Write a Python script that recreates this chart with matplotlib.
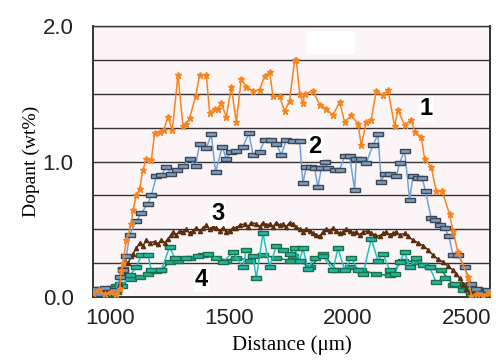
import matplotlib
matplotlib.use("Agg")
import matplotlib.pyplot as plt
import matplotlib.patches as mpatches
from matplotlib.path import Path

# ── Data ──────────────────────────────────────────────────────────────────────
x1 = [930, 955, 980, 1005, 1025, 1042, 1049, 1056, 1070, 1091, 1098, 1112, 1126, 1140, 1154,
      1175, 1189, 1210, 1227, 1245, 1263, 1287, 1308, 1322, 1336, 1361, 1378, 1406, 1420, 1441,
      1455, 1469, 1490, 1511, 1532, 1553, 1574, 1602, 1630, 1651, 1672, 1686, 1714, 1735, 1756,
      1777, 1784, 1798, 1812, 1819, 1854, 1882, 1910, 1938, 1966, 1987, 2015, 2043, 2057, 2078,
      2099, 2120, 2148, 2169, 2197, 2211, 2239, 2267, 2281, 2309, 2323, 2351, 2372, 2397, 2428,
      2442, 2463, 2505, 2519, 2545, 2570, 2595]
y1 = [0.03, 0.05, 0.02, 0.04, 0.02, 0.06, 0.19, 0.25, 0.42, 0.54, 0.64, 0.75, 0.80, 0.94, 1.02,
      1.01, 1.21, 1.22, 1.23, 1.33, 1.23, 1.64, 1.26, 1.28, 1.32, 1.48, 1.64, 1.64, 1.36, 1.39,
      1.39, 1.43, 1.33, 1.55, 1.29, 1.61, 1.55, 1.52, 1.53, 1.63, 1.66, 1.48, 1.48, 1.37, 1.45,
      1.75, 1.75, 1.50, 1.43, 1.50, 1.52, 1.42, 1.39, 1.34, 1.44, 1.29, 1.34, 1.28, 1.12, 1.29,
      1.31, 1.52, 1.49, 1.53, 1.26, 1.38, 1.27, 1.31, 1.22, 1.18, 1.02, 0.96, 0.78, 0.78, 0.61,
      0.49, 0.33, 0.15, 0.01, 0.02, 0.01, 0.03]

x2 = [930, 955, 980, 1005, 1025, 1042, 1056, 1070, 1084, 1112, 1133, 1161, 1175, 1196, 1217,
      1238, 1259, 1283, 1308, 1336, 1361, 1378, 1406, 1427, 1445, 1473, 1490, 1511, 1532, 1560,
      1585, 1602, 1630, 1651, 1679, 1700, 1721, 1742, 1770, 1798, 1812, 1826, 1847, 1861, 1875,
      1889, 1903, 1917, 1945, 1966, 1987, 2008, 2029, 2036, 2057, 2078, 2106, 2127, 2141, 2155,
      2176, 2204, 2218, 2239, 2260, 2274, 2295, 2313, 2327, 2351, 2365, 2386, 2407, 2425, 2442,
      2463, 2491, 2519, 2540, 2565, 2590]
y2 = [0.06, 0.02, 0.07, 0.03, 0.05, 0.15, 0.20, 0.30, 0.46, 0.56, 0.62, 0.69, 0.75, 0.89, 0.90,
      0.96, 0.91, 0.94, 0.97, 1.02, 0.97, 1.13, 1.10, 1.20, 0.92, 1.11, 1.02, 1.07, 1.08, 1.11,
      1.21, 1.05, 1.07, 1.16, 1.16, 1.13, 1.05, 1.16, 1.15, 1.15, 0.84, 0.96, 0.96, 0.95, 0.81,
      0.95, 1.00, 0.95, 0.94, 0.94, 1.04, 1.04, 0.79, 1.02, 1.02, 0.99, 1.12, 1.20, 0.85, 0.91,
      0.91, 0.89, 0.99, 1.08, 0.72, 0.89, 0.88, 0.88, 0.78, 0.58, 0.57, 0.53, 0.51, 0.45, 0.31,
      0.31, 0.22, 0.10, 0.06, 0.03, 0.05]

x3 = [930, 955, 980, 1005, 1025, 1042, 1056, 1063, 1077, 1091, 1098, 1112, 1126, 1140, 1154,
      1168, 1189, 1203, 1217, 1231, 1245, 1259, 1266, 1280, 1294, 1308, 1322, 1336, 1350, 1364,
      1378, 1392, 1406, 1420, 1434, 1448, 1462, 1476, 1490, 1504, 1518, 1532, 1546, 1567, 1581,
      1595, 1616, 1630, 1644, 1658, 1672, 1686, 1700, 1714, 1728, 1742, 1756, 1770, 1784, 1798,
      1812, 1826, 1840, 1854, 1868, 1882, 1896, 1910, 1924, 1938, 1952, 1966, 1980, 1994, 2008,
      2022, 2036, 2050, 2064, 2085, 2099, 2113, 2134, 2148, 2162, 2176, 2190, 2204, 2218, 2239,
      2253, 2274, 2295, 2316, 2337, 2358, 2379, 2400, 2421, 2442, 2456, 2470, 2484, 2498, 2512,
      2526, 2555, 2585]
y3 = [0.02, 0.04, 0.03, 0.05, 0.06, 0.10, 0.18, 0.27, 0.25, 0.30, 0.32, 0.36, 0.40, 0.38, 0.42,
      0.40, 0.41, 0.39, 0.42, 0.40, 0.43, 0.46, 0.48, 0.46, 0.49, 0.48, 0.50, 0.47, 0.49, 0.51,
      0.49, 0.51, 0.53, 0.50, 0.52, 0.51, 0.49, 0.51, 0.48, 0.49, 0.51, 0.51, 0.53, 0.54, 0.52,
      0.55, 0.54, 0.52, 0.55, 0.53, 0.54, 0.52, 0.55, 0.53, 0.54, 0.52, 0.55, 0.54, 0.52, 0.50,
      0.48, 0.50, 0.49, 0.47, 0.46, 0.45, 0.48, 0.50, 0.49, 0.51, 0.49, 0.47, 0.48, 0.50, 0.49,
      0.47, 0.48, 0.46, 0.48, 0.49, 0.47, 0.46, 0.45, 0.47, 0.48, 0.46, 0.47, 0.48, 0.46, 0.47,
      0.45, 0.42, 0.40, 0.38, 0.35, 0.31, 0.28, 0.26, 0.23, 0.20, 0.17, 0.14, 0.10, 0.06, 0.04,
      0.03, 0.02, 0.04]

x4 = [930, 955, 980, 1005, 1025, 1050, 1084, 1112, 1133, 1161, 1175, 1217, 1252, 1273, 1322,
      1371, 1413, 1476, 1518, 1560, 1574, 1602, 1616, 1644, 1672, 1700, 1728, 1756, 1777, 1798,
      1812, 1833, 1861, 1896, 1938, 1959, 1987, 2015, 2043, 2064, 2099, 2127, 2148, 2176, 2197,
      2218, 2239, 2260, 2288, 2316, 2344, 2372, 2407, 2449, 2491, 2519, 2545, 2575]
y4 = [0.02, 0.06, 0.03, 0.07, 0.04, 0.08, 0.16, 0.22, 0.31, 0.31, 0.20, 0.20, 0.37, 0.29, 0.29,
      0.30, 0.32, 0.26, 0.33, 0.22, 0.35, 0.30, 0.14, 0.47, 0.22, 0.38, 0.35, 0.32, 0.36, 0.27,
      0.36, 0.21, 0.29, 0.30, 0.20, 0.36, 0.20, 0.29, 0.20, 0.17, 0.43, 0.27, 0.32, 0.20, 0.17,
      0.26, 0.33, 0.22, 0.29, 0.24, 0.22, 0.11, 0.14, 0.10, 0.09, 0.04, 0.06, 0.03]

x5 = [930, 955, 980, 1005, 1025, 1042, 1056, 1070, 1091, 1126, 1161, 1196, 1217, 1252, 1287,
      1336, 1392, 1448, 1490, 1532, 1588, 1644, 1700, 1756, 1770, 1840, 1896, 1952, 2008, 2057,
      2120, 2176, 2232, 2288, 2344, 2393, 2442, 2484, 2520, 2550, 2580]
y5 = [0.05, 0.03, 0.06, 0.02, 0.08, 0.10, 0.21, 0.15, 0.13, 0.15, 0.17, 0.19, 0.20, 0.26, 0.27,
      0.29, 0.31, 0.29, 0.27, 0.29, 0.27, 0.31, 0.29, 0.27, 0.30, 0.22, 0.32, 0.20, 0.22, 0.20,
      0.17, 0.16, 0.27, 0.26, 0.22, 0.20, 0.09, 0.05, 0.03, 0.05, 0.02]

curve_labels = ["1", "2", "3", "4"]
label_pos = [(2331, 1.39), (1861, 1.11), (1454, 0.62), (1386, 0.13)]

x_ticks = [1000, 1500, 2000, 2500]
y_ticks = [0.0, 1.0, 2.0]

# ── Style ─────────────────────────────────────────────────────────────────────
BG_PLOT = "#fcf5f7"
GRID = "#333333"
C_ORANGE = "#f7841f"
C_BLUE = "#6ea4dc"
C_BROWN = "#5b2e0e"
C_CYAN = "#1fc3c3"
C_GREEN = "#16784f"

# flat rectangle marker (Excel-like dash)
rect_marker = Path([(-1, -0.45), (1, -0.45), (1, 0.45), (-1, 0.45), (-1, -0.45)],
                   [Path.MOVETO, Path.LINETO, Path.LINETO, Path.LINETO, Path.CLOSEPOLY])

fig = plt.figure(figsize=(4.96, 3.61), dpi=100)
ax = fig.add_axes([0.1875, 0.177, 0.8005, 0.751])
ax.set_facecolor(BG_PLOT)

ax.plot(x5, y5, color=C_GREEN, lw=1.1, marker=rect_marker, ms=6.5,
        mfc="#2aa88a", mec=C_GREEN, mew=1.0, zorder=3)
ax.plot(x4, y4, color=C_CYAN, lw=1.1, marker=rect_marker, ms=6.5,
        mfc="#26b5aa", mec="#17704a", mew=1.0, zorder=4)
ax.plot(x3, y3, color=C_BROWN, lw=1.1, marker="^", ms=3.0,
        mfc=C_BROWN, mec=C_BROWN, zorder=5)
ax.plot(x2, y2, color=C_BLUE, lw=1.1, marker=rect_marker, ms=7,
        mfc="#7f9cba", mec="#3a4758", mew=1.0, zorder=6)
ax.plot(x1, y1, color=C_ORANGE, lw=1.1, marker="*", ms=4.5,
        mfc=C_ORANGE, mec=C_ORANGE, zorder=7)

# white patch near the top (blank box in the original)
ax.add_patch(mpatches.Rectangle((1827, 1.79), 202, 0.17, facecolor="white",
                                edgecolor="none", zorder=2.5))

for lab, (lx, ly) in zip(curve_labels, label_pos):
    ax.text(lx, ly, lab, fontsize=17, fontweight="bold", family="Liberation Sans",
            ha="center", va="center", color="black", zorder=9,
            bbox=dict(facecolor="white", edgecolor="none", pad=1.0))

ax.set_xlim(930, 2598)
ax.set_ylim(0, 2.0)
ax.set_xticks(x_ticks)
ax.set_yticks(y_ticks)
ax.set_xticklabels([str(t) for t in x_ticks])
ax.set_yticklabels([f"{t:.1f}" for t in y_ticks])
ax.set_yticks([0.25, 0.5, 0.75, 1.25, 1.5, 1.75], minor=True)
ax.grid(True, which="both", axis="y", color=GRID, lw=1.0, zorder=1)
ax.set_axisbelow(True)

for lbl in ax.get_xticklabels() + ax.get_yticklabels():
    lbl.set_fontfamily("Liberation Sans")
    lbl.set_fontsize(16)
    lbl.set_color("#222222")
ax.tick_params(axis="x", length=0, pad=8)
ax.tick_params(axis="y", which="both", length=0, pad=14)

for s in ["left", "bottom", "right"]:
    ax.spines[s].set_color("#333333")
    ax.spines[s].set_linewidth(1.4)
ax.spines["top"].set_color(GRID)
ax.spines["top"].set_linewidth(1.0)

ax.set_xlabel("Distance (\u03bcm)", family="Liberation Serif", fontsize=15, labelpad=4)
ax.set_ylabel("Dopant (wt%)", family="Liberation Serif", fontsize=14, labelpad=2)

fig.savefig("out.png", dpi=100, facecolor="white")
